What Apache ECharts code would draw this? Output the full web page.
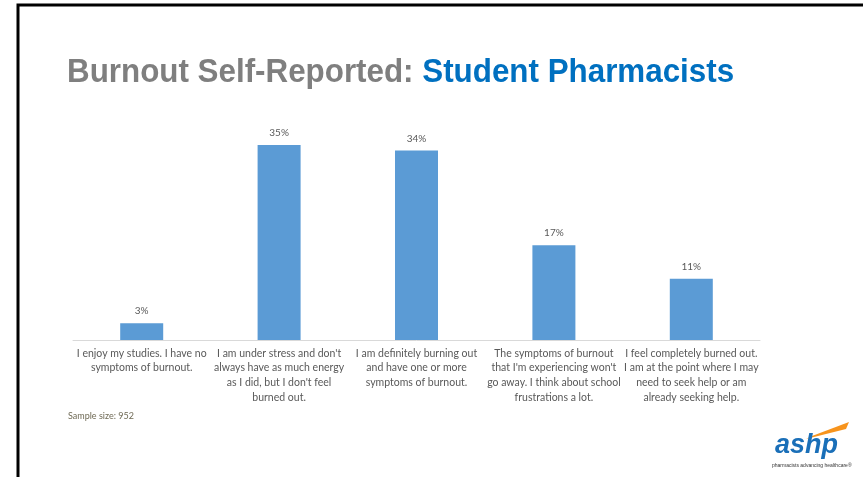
<!DOCTYPE html>
<html>
<head>
<meta charset="utf-8">
<script src="https://cdn.jsdelivr.net/npm/echarts@6/dist/echarts.min.js"></script>
<style>
    html, body { margin: 0; padding: 0; background: #fff; }
    #chart { width: 863px; height: 477px; }
</style>
</head>
<body>
<div id="chart"></div>
<script>
// categories (line breaks as on the slide)
const categories = [
    "I enjoy my studies. I have no\nsymptoms of burnout.",
    "I am under stress and don't\nalways have as much energy\nas I did, but I don't feel\nburned out.",
    "I am definitely burning out\nand have one or more\nsymptoms of burnout.",
    "The symptoms of burnout\nthat I'm experiencing won't\ngo away. I think about school\nfrustrations a lot.",
    "I feel completely burned out.\nI am at the point where I may\nneed to seek help or am\nalready seeking help."
];
// percent of respondents
const percents = [3, 35, 34, 17, 11];
const sampleSize = 952;

const chart = echarts.init(document.getElementById("chart"));

const option = {
    backgroundColor: "#ffffff",
    animation: false,
    grid: { left: 73, right: 103, top: 117, bottom: 137 },
    xAxis: {
        type: "category",
        data: categories,
        axisLine: { lineStyle: { color: "#d9d9d9", width: 1 } },
        axisTick: { show: false },
        axisLabel: {
            interval: 0,
            margin: 6,
            color: "#595959",
            fontFamily: "Lato",
            fontSize: 10.5,
            lineHeight: 14.7,
            align: "center"
        }
    },
    yAxis: {
        type: "value",
        min: 0,
        max: 40,
        show: false,
        splitLine: { show: false }
    },
    series: [
        {
            type: "bar",
            data: percents,
            barWidth: 43,
            itemStyle: { color: "#5b9bd5" },
            label: {
                show: true,
                position: "top",
                distance: 7,
                formatter: (p) => p.value + "%",
                color: "#595959",
                fontFamily: "Lato",
                fontSize: 10
            }
        }
    ],
    graphic: [
        // slide border
        {
            type: "rect",
            shape: { x: 18, y: 5, width: 900, height: 600 },
            style: { fill: "none", stroke: "#000", lineWidth: 3 }
        },
        // title, narrow-ish font faked with scaleX
        {
            type: "text",
            x: 67,
            y: 56,
            scaleX: 0.95,
            style: {
                text: "{a|Burnout Self-Reported: }{b|Student Pharmacists}",
                rich: {
                    a: { font: "bold 33px 'Liberation Sans'", fill: "#7f7f7f" },
                    b: { font: "bold 33px 'Liberation Sans'", fill: "#0070c0" }
                }
            }
        },
        {
            type: "text",
            left: 68,
            top: 412,
            style: {
                text: "Sample size: " + sampleSize,
                fill: "#6f6a55",
                font: "9px Lato"
            }
        },
        // ashp logo
        {
            type: "polygon",
            shape: { points: [[806, 439], [846, 429], [849, 422], [812, 436]] },
            style: { fill: "#f7941d" }
        },
        {
            type: "text",
            left: 775,
            top: 432,
            style: {
                text: "ashp",
                fill: "#1a6fb8",
                font: "italic bold 27px 'Liberation Sans'"
            }
        },
        {
            type: "text",
            left: 772,
            top: 463,
            style: {
                text: "pharmacists advancing healthcare\u00ae",
                fill: "#333",
                font: "5px 'Liberation Sans'"
            }
        }
    ]
};

chart.setOption(option);
</script>
</body>
</html>
